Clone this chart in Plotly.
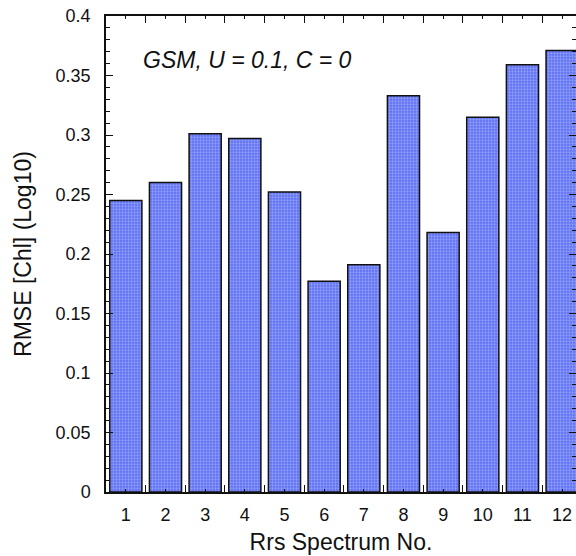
import plotly.graph_objects as go

spectra = list(range(1, 13))
rmse = [0.245, 0.260, 0.301, 0.297, 0.252, 0.177, 0.191, 0.333, 0.218, 0.315, 0.359, 0.371]
y_ticks = [0, 0.05, 0.1, 0.15, 0.2, 0.25, 0.3, 0.35, 0.4]
y_tick_text = ["0", "0.05", "0.1", "0.15", "0.2", "0.25", "0.3", "0.35", "0.4"]

font = "Liberation Sans, Arial, Helvetica, sans-serif"

fig = go.Figure()
fig.add_trace(go.Bar(
    x=spectra, y=rmse, width=0.81,
    marker=dict(
        color="#5d6ff2",
        line=dict(color="#111111", width=1.5),
        pattern=dict(shape=".", size=3, solidity=0.45, fgcolor="#c4cbff", bgcolor="#5d6ff2"),
    ),
))

fig.update_layout(
    width=576, height=556,
    margin=dict(l=106, r=0, t=16, b=64),
    paper_bgcolor="white", plot_bgcolor="white",
    showlegend=False,
    font=dict(family=font, color="#111111"),
    annotations=[dict(
        text="<i>GSM, U = 0.1, C = 0</i>", x=0.30, y=0.907, xref="paper", yref="paper",
        xanchor="center", yanchor="middle", showarrow=False,
        font=dict(size=23, family=font, color="#111111"),
    )],
)

fig.update_xaxes(
    range=[0.5, 12.35], tickvals=spectra, ticktext=[str(s) for s in spectra],
    ticks="inside", ticklen=3, tickwidth=1.2, tickcolor="#111111",
    minor=dict(tick0=0.5, dtick=1, ticks="inside", ticklen=7, tickwidth=1.2, tickcolor="#111111"),
    showline=True, linecolor="#111111", linewidth=1.5, mirror="ticks",
    showgrid=False, zeroline=False, automargin=False,
    tickfont=dict(size=18), ticklabelstandoff=6,
    title=dict(text="Rrs Spectrum No.", font=dict(size=23), standoff=10),
)
fig.update_yaxes(
    range=[0, 0.4], tickvals=y_ticks, ticktext=y_tick_text,
    ticks="inside", ticklen=7, tickwidth=1.2, tickcolor="#111111",
    minor=dict(dtick=0.01, ticks="inside", ticklen=4, tickwidth=1.2, tickcolor="#111111"),
    showline=True, linecolor="#111111", linewidth=1.5, mirror="ticks",
    showgrid=False, zeroline=False, automargin=False,
    tickfont=dict(size=18), ticklabelstandoff=10,
    title=dict(text="RMSE [Chl] (Log10)", font=dict(size=23), standoff=18),
)

fig.write_html(
    "out.html",
    config={"displayModeBar": False},
    post_script="document.body.style.margin='0';document.body.style.overflow='hidden';",
)
